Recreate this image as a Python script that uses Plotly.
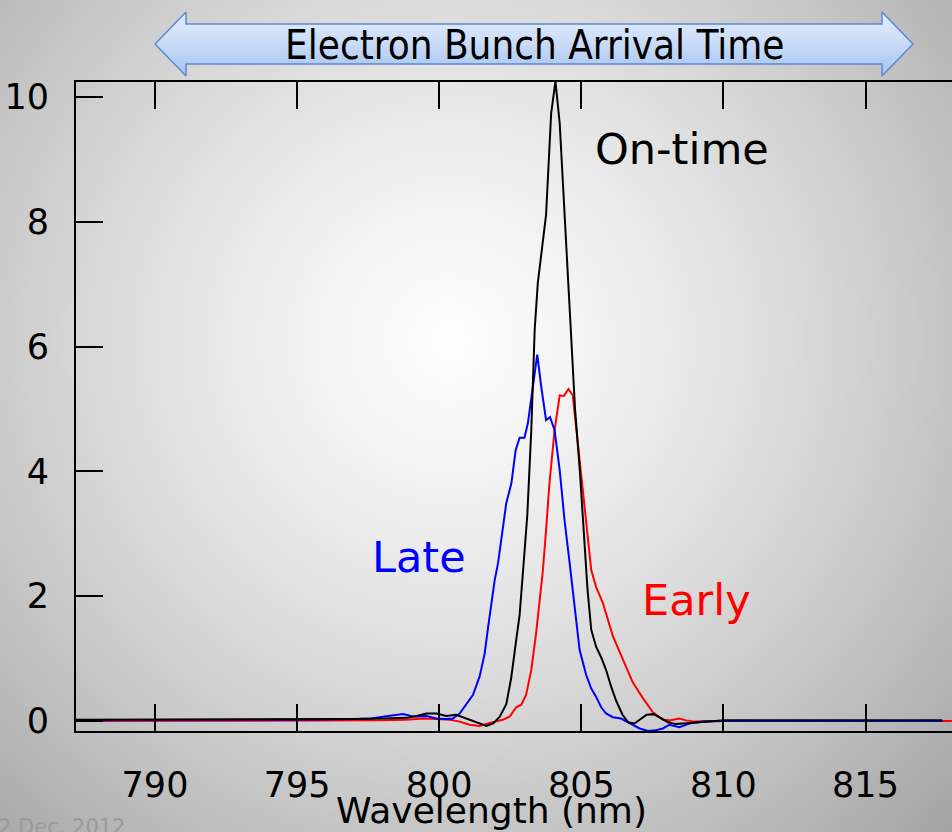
import base64
import struct
import zlib

import numpy as np
import plotly.graph_objects as go

# ---- spectra: wavelength (nm) and signal for each arrival condition ----
ontime_nm = [787.22, 789.0, 791.0, 793.0, 795.0, 797.0, 798.0, 798.86, 799.2, 799.55,
             799.9, 800.25, 800.6, 800.84, 801.19, 801.45, 801.66, 801.9, 802.13, 802.36,
             802.53, 802.71, 802.83, 803.0, 803.1, 803.24, 803.36, 803.47, 803.76, 803.94,
             804.09, 804.24, 804.42, 804.6, 804.78, 804.95, 805.1, 805.22, 805.35, 805.52,
             805.7, 805.87, 806.05, 806.23, 806.45, 806.65, 806.87, 807.1, 807.3, 807.55,
             807.8, 808.05, 808.33, 808.7, 809.1, 809.5, 810.0, 812.0, 815.0, 817.7]
ontime_val = [0.02, 0.02, 0.02, 0.03, 0.03, 0.03, 0.04, 0.05, 0.08, 0.12,
              0.12, 0.08, 0.10, 0.06, -0.01, -0.05, -0.08, -0.04, 0.07, 0.27,
              0.68, 1.30, 1.70, 2.70, 3.30, 4.66, 6.27, 7.02, 8.11, 9.74,
              10.25, 9.58, 8.00, 6.50, 5.00, 4.00, 3.00, 2.10, 1.46, 1.19,
              1.02, 0.82, 0.55, 0.32, 0.10, -0.02, -0.04, 0.03, 0.10, 0.11,
              0.05, -0.02, -0.05, -0.04, -0.02, -0.01, 0.01, 0.01, 0.01, 0.01]

late_nm = [787.22, 790.0, 793.0, 795.0, 797.0, 797.6, 798.2, 798.73, 799.0, 799.2,
           799.55, 799.9, 800.25, 800.48, 800.72, 800.95, 801.19, 801.42, 801.6, 801.72,
           801.84, 801.95, 802.07, 802.24, 802.36, 802.54, 802.69, 802.83, 803.0, 803.12,
           803.24, 803.45, 803.59, 803.76, 803.9, 804.06, 804.24, 804.41, 804.59, 804.76,
           804.94, 805.17, 805.35, 805.52, 805.7, 805.87, 806.11, 806.4, 806.7, 807.05,
           807.35, 807.6, 807.87, 808.1, 808.45, 808.8, 809.27, 810.0, 812.0, 815.0, 817.7]
late_val = [0.01, 0.01, 0.02, 0.02, 0.03, 0.04, 0.08, 0.11, 0.08, 0.07,
            0.08, 0.04, 0.03, 0.04, 0.12, 0.26, 0.42, 0.71, 1.08, 1.50,
            1.90, 2.25, 2.53, 3.06, 3.49, 3.81, 4.34, 4.54, 4.54, 4.77,
            5.20, 5.87, 5.36, 4.82, 4.87, 4.66, 4.02, 3.22, 2.53, 1.83,
            1.14, 0.74, 0.52, 0.39, 0.22, 0.12, 0.06, 0.04, -0.04, -0.12,
            -0.16, -0.15, -0.12, -0.06, -0.10, -0.04, -0.01, 0.00, 0.00, 0.00, 0.00]

early_nm = [787.22, 790.0, 793.0, 795.0, 797.0, 798.0, 798.84, 799.43, 799.9, 800.37,
            800.72, 801.07, 801.42, 801.78, 802.24, 802.48, 802.71, 802.89, 803.06, 803.24,
            803.41, 803.52, 803.65, 803.76, 803.88, 804.06, 804.24, 804.39, 804.55, 804.7,
            804.82, 804.94, 805.05, 805.17, 805.35, 805.52, 805.76, 806.11, 806.46, 806.81,
            807.16, 807.52, 807.87, 808.1, 808.45, 808.69, 809.0, 810.0, 812.0, 815.0, 818.04]
early_val = [0.00, 0.00, 0.01, 0.01, 0.01, 0.01, 0.02, 0.04, 0.03, 0.02,
             -0.01, -0.06, -0.08, -0.03, 0.02, 0.07, 0.22, 0.26, 0.42, 0.82,
             1.41, 1.88, 2.42, 3.06, 3.81, 4.66, 5.22, 5.21, 5.32, 5.22,
             4.71, 4.23, 3.75, 3.17, 2.42, 2.15, 1.89, 1.36, 0.98, 0.62,
             0.37, 0.14, 0.02, 0.01, 0.04, 0.01, -0.01, 0.00, 0.00, 0.00, 0.00]

x_ticks = [790, 795, 800, 805, 810, 815]
y_ticks = [0, 2, 4, 6, 8, 10]

W, H = 952, 832
FONT = "DejaVu Sans, Verdana, sans-serif"


def px(x, y):
    """Pixel position -> paper coordinates (figure has zero margins)."""
    return x / W, 1 - y / H


# ---- soft radial grey backdrop, encoded as a small PNG ----
def backdrop_png():
    s = 4
    h, w = H // s, W // s
    yy, xx = np.mgrid[0:h, 0:w]
    r = np.hypot(xx * s + s / 2 - 450, yy * s + s / 2 - 340)
    g = 253 - 66 * (r / 564.0) ** 1.35
    g = np.clip(g, 0, 255).astype(np.uint8)
    raw = b"".join(b"\x00" + g[i].tobytes() for i in range(h))

    def chunk(tag, data):
        return (struct.pack(">I", len(data)) + tag + data
                + struct.pack(">I", zlib.crc32(tag + data) & 0xFFFFFFFF))

    ihdr = struct.pack(">IIBBBBB", w, h, 8, 0, 0, 0, 0)
    png = (b"\x89PNG\r\n\x1a\n" + chunk(b"IHDR", ihdr)
           + chunk(b"IDAT", zlib.compress(raw, 9)) + chunk(b"IEND", b""))
    return "data:image/png;base64," + base64.b64encode(png).decode()


fig = go.Figure()

line_w = 2
fig.add_trace(go.Scatter(x=early_nm, y=early_val, mode="lines",
                         line=dict(color="#ff0000", width=line_w), name="Early"))
fig.add_trace(go.Scatter(x=late_nm, y=late_val, mode="lines",
                         line=dict(color="#0000ff", width=line_w), name="Late"))
fig.add_trace(go.Scatter(x=ontime_nm, y=ontime_val, mode="lines",
                         line=dict(color="#000000", width=line_w), name="On-time"))

# double-headed banner arrow, drawn in a pixel-space overlay subplot
arrow_x = [155, 186, 186, 882, 882, 913, 882, 882, 186, 186, 155]
arrow_y = [44, 12, 24, 24, 12, 44, 76, 64, 64, 76, 44]
fig.add_trace(go.Scatter(
    x=arrow_x, y=arrow_y, xaxis="x2", yaxis="y2", mode="lines",
    fill="toself",
    fillgradient=dict(type="vertical", start=12, stop=76,
                      colorscale=[[0, "#e4eefc"], [0.5, "#c9dbf7"], [1, "#a3c1ef"]]),
    line=dict(color="#5a8bd2", width=1.5), hoverinfo="skip", showlegend=False))

x_left = 790 - 79 / 28.42
x_right = 790 + 797 / 28.42
y_bottom = -10 / 62.35
y_top = 10 + 15 / 62.35

axis_common = dict(
    showline=True, linecolor="#000000", linewidth=2,
    ticks="inside", ticklen=27, tickwidth=2, tickcolor="#000000",
    showgrid=False, zeroline=False, automargin=False,
    tickfont=dict(family=FONT, size=35, color="#000000"),
)

fig.update_layout(
    template="none",
    width=W, height=H,
    autosize=False,
    margin=dict(l=0, r=0, t=0, b=0, pad=0, autoexpand=False),
    paper_bgcolor="#d0d0d0",
    plot_bgcolor="rgba(0,0,0,0)",
    showlegend=False,
    xaxis=dict(domain=[px(76, 0)[0], 1.0], range=[x_left, x_right],
               tickvals=x_ticks, mirror="ticks", ticklabelstandoff=22,
               anchor="y", **axis_common),
    yaxis=dict(domain=[px(0, 731)[1], px(0, 82)[1]], range=[y_bottom, y_top],
               tickvals=y_ticks, ticklabelstandoff=18, anchor="x",
               **axis_common),
    xaxis2=dict(domain=[0, 1], range=[0, W], visible=False, anchor="y2",
                fixedrange=True, automargin=False),
    yaxis2=dict(domain=[0, 1], range=[H, 0], visible=False, anchor="x2",
                fixedrange=True, automargin=False),
    images=[dict(source=backdrop_png(), xref="paper", yref="paper",
                 x=0, y=1, sizex=1, sizey=1, sizing="stretch",
                 xanchor="left", yanchor="top", layer="below")],
)

annotations = [
    dict(text="Electron Bunch Arrival Time", xref="paper", yref="paper",
         x=px(534, 0)[0], y=px(0, 45)[1], xanchor="center", yanchor="middle",
         showarrow=False,
         font=dict(family="DejaVu Sans Condensed, Liberation Sans Narrow, DejaVu Sans",
                   size=40, color="#000000")),
    dict(text="On-time", x=808.54, y=9.16, xref="x", yref="y", showarrow=False,
         xanchor="center", yanchor="middle",
         font=dict(family=FONT, size=43, color="#000000")),
    dict(text="Late", x=799.29, y=2.63, xref="x", yref="y", showarrow=False,
         xanchor="center", yanchor="middle",
         font=dict(family=FONT, size=43, color="#0000ff")),
    dict(text="Early", x=809.04, y=1.94, xref="x", yref="y", showarrow=False,
         xanchor="center", yanchor="middle",
         font=dict(family=FONT, size=43, color="#ff0000")),
    dict(text="Wavelength (nm)", xref="paper", yref="paper",
         x=px(491, 0)[0], y=0, xanchor="center", yanchor="bottom",
         showarrow=False, borderpad=0,
         font=dict(family=FONT, size=36, color="#000000")),
    dict(text="2 Dec. 2012", xref="paper", yref="paper",
         x=px(-3, 0)[0], y=px(0, 840)[1], xanchor="left", yanchor="bottom",
         showarrow=False, borderpad=0,
         font=dict(family=FONT, size=21, color="#9a9a9a")),
]
fig.update_layout(annotations=annotations)

fig.write_html("out.html")
